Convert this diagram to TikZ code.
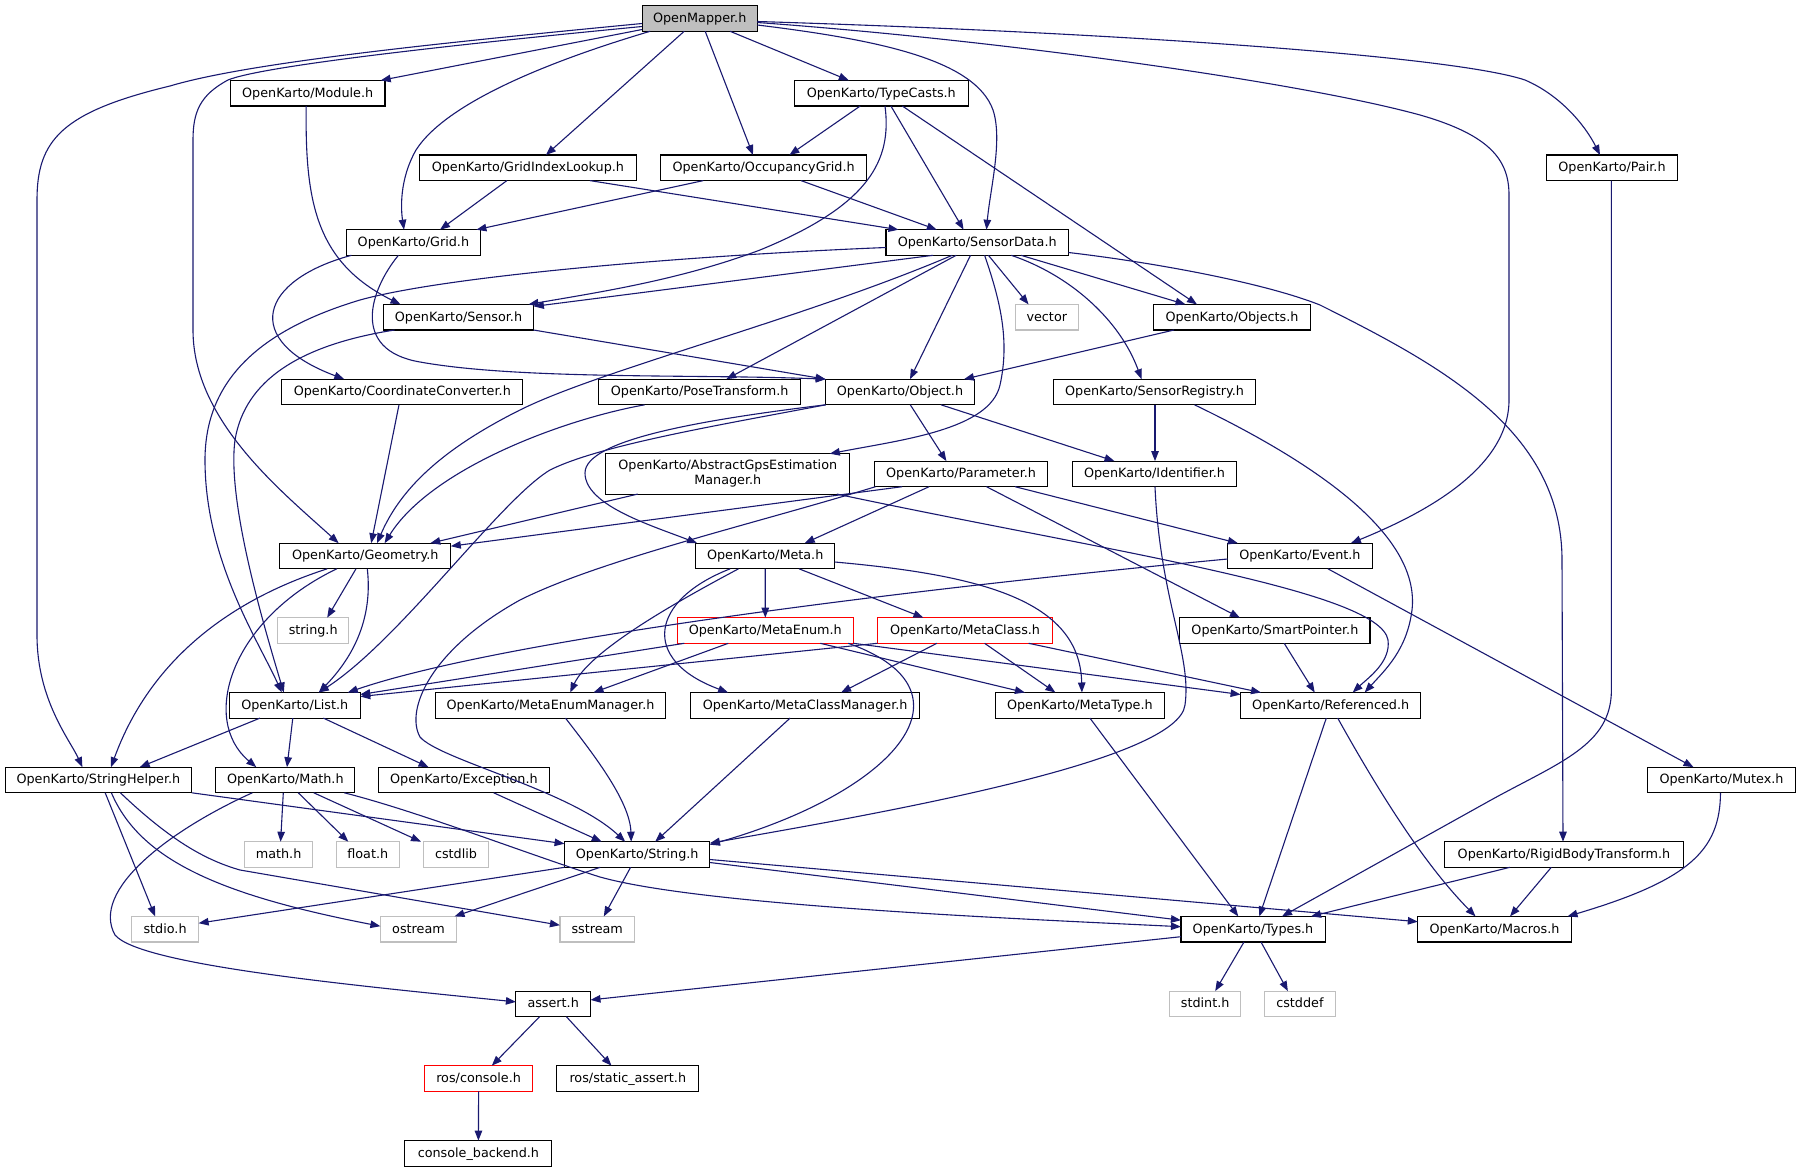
\documentclass[tikz,border=0pt]{standalone}
\usepackage{fontspec}
\setmainfont{DejaVu Sans}
\usetikzlibrary{arrows.meta}
\definecolor{edgeblue}{RGB}{25,25,112}
\definecolor{sysgray}{RGB}{191,191,191}
\newcommand\dxfont{\fontsize{12.77}{15}\selectfont}
\tikzset{
  box/.style={draw=black, fill=white, line width=1.1pt, minimum height=25.6, inner sep=0, outer sep=0, text height=10.2pt, text depth=2.3pt, font=\dxfont},
  sysbox/.style={box, draw=sysgray},
  redbox/.style={box, draw=red},
  e/.style={draw=edgeblue, line width=1.1pt, -{Triangle[length=10pt,width=7.5pt]}},
}
\begin{document}
\begin{tikzpicture}[x=1pt,y=-1pt]
\fill[white] (0,0) rectangle (1800,1172);
\useasboundingbox (0,0) rectangle (1800,1172);
% nodes
\node[box, fill=sysgray, minimum width=115.2] (om) at (699.7,18.5) {OpenMapper.h};
\node[box, minimum width=154.6] (mod) at (307.7,93.2) {OpenKarto/Module.h};
\node[box, minimum width=173.8] (tc) at (881.3,93.2) {OpenKarto/TypeCasts.h};
\node[box, minimum width=217] (gil) at (527.9,167.8) {OpenKarto/GridIndexLookup.h};
\node[box, minimum width=206.2] (og) at (763.6,167.8) {OpenKarto/OccupancyGrid.h};
\node[box, minimum width=131.3] (pair) at (1612,167.8) {OpenKarto/Pair.h};
\node[box, minimum width=134.7] (grid) at (413.4,242.5) {OpenKarto/Grid.h};
\node[box, minimum width=182.5] (sd) at (977.2,242.5) {OpenKarto/SensorData.h};
\node[box, minimum width=150.8] (sensor) at (458.5,317.2) {OpenKarto/Sensor.h};
\node[sysbox, minimum width=63.2] (vec) at (1046.8,317.2) {vector};
\node[box, minimum width=156.4] (objs) at (1232,317.2) {OpenKarto/Objects.h};
\node[box, minimum width=241.1] (cc) at (402.3,392) {OpenKarto/CoordinateConverter.h};
\node[box, minimum width=202.4] (pt) at (699.7,392) {OpenKarto/PoseTransform.h};
\node[box, minimum width=148.6] (obj) at (900,392) {OpenKarto/Object.h};
\node[box, minimum width=202.8] (sr) at (1154.5,392) {OpenKarto/SensorRegistry.h};
\node[box, minimum width=244.2, minimum height=40.3, text height=, text depth=, align=center] (agps) at (727.8,473.9) {OpenKarto/AbstractGpsEstimation\\Manager.h};
\node[box, minimum width=173.4] (param) at (961.1,473.9) {OpenKarto/Parameter.h};
\node[box, minimum width=163.8] (ident) at (1154.5,473.9) {OpenKarto/Identifier.h};
\node[box, minimum width=171] (geom) at (365.3,556) {OpenKarto/Geometry.h};
\node[box, minimum width=138.9] (meta) at (765.2,556) {OpenKarto/Meta.h};
\node[box, minimum width=144.6] (event) at (1299.9,556) {OpenKarto/Event.h};
\node[sysbox, minimum width=70.8] (strh) at (313.2,630.5) {string.h};
\node[redbox, minimum width=176] (menum) at (765.3,630.5) {OpenKarto/MetaEnum.h};
\node[redbox, minimum width=175.2] (mclass) at (965.1,630.5) {OpenKarto/MetaClass.h};
\node[box, minimum width=190.1] (sp) at (1274.9,630.5) {OpenKarto/SmartPointer.h};
\node[box, minimum width=131] (list) at (294.8,705.3) {OpenKarto/List.h};
\node[box, minimum width=230.7] (mem) at (550.5,705.3) {OpenKarto/MetaEnumManager.h};
\node[box, minimum width=229.6] (mcm) at (805.1,705.3) {OpenKarto/MetaClassManager.h};
\node[box, minimum width=169.2] (mtype) at (1079.9,705.3) {OpenKarto/MetaType.h};
\node[box, minimum width=180.2] (ref) at (1330.7,705.3) {OpenKarto/Referenced.h};
\node[box, minimum width=186.7] (sh) at (98.4,780) {OpenKarto/StringHelper.h};
\node[box, minimum width=139] (math) at (285.3,780) {OpenKarto/Math.h};
\node[box, minimum width=170.7] (exc) at (463.9,780) {OpenKarto/Exception.h};
\node[box, minimum width=147.3] (mutex) at (1721.5,780) {OpenKarto/Mutex.h};
\node[sysbox, minimum width=68.2] (mathh) at (278.6,854.5) {math.h};
\node[sysbox, minimum width=62.8] (floath) at (367.8,854.5) {float.h};
\node[sysbox, minimum width=65.4] (cstdlib) at (456,854.5) {cstdlib};
\node[box, minimum width=145.3] (string) at (637.2,854.5) {OpenKarto/String.h};
\node[box, minimum width=238.9] (rbt) at (1564,854.5) {OpenKarto/RigidBodyTransform.h};
\node[sysbox, minimum width=67] (stdio) at (165.1,929.2) {stdio.h};
\node[sysbox, minimum width=76.2] (ostream) at (418.5,929.2) {ostream};
\node[sysbox, minimum width=74.5] (sstream) at (597.2,929.2) {sstream};
\node[box, minimum width=144.1] (types) at (1253,929.2) {OpenKarto/Types.h};
\node[box, minimum width=153.4] (macros) at (1494.5,929.2) {OpenKarto/Macros.h};
\node[box, minimum width=74.6] (assert) at (553.2,1003.9) {assert.h};
\node[sysbox, minimum width=70.8] (stdint) at (1205.2,1003.9) {stdint.h};
\node[sysbox, minimum width=71.2] (cstddef) at (1299.9,1003.9) {cstddef};
\node[redbox, minimum width=108.3] (rosc) at (478.6,1078.5) {ros/console.h};
\node[box, minimum width=141.9] (rossa) at (627.8,1078.5) {ros/static\_assert.h};
\node[box, minimum width=147] (cb) at (478.4,1153.4) {console\_backend.h};
% OpenMapper
\draw[e] ([yshift=-5]om.west) .. controls (450,42) and (250,62) .. (170,86) .. controls (62,112) and (37,140) .. (37,200) -- (37,635) .. controls (37,700) and (70,740) .. ([xshift=-16]sh.north);
\draw[e] ([yshift=-8]om.west) .. controls (450,45) and (262,66) .. (228,80) .. controls (200,95) and (193,112) .. (193,140) -- (193,330) .. controls (193,420) and (280,490) .. ([xshift=-26.6]geom.north);
\draw[e] ([yshift=-11]om.west) -- ([xshift=73]mod.north);
\draw[e] ([xshift=8]om.south west) .. controls (560,58) and (448,100) .. (416,150) .. controls (399,180) and (401,210) .. ([xshift=-9.4]grid.north);
\draw[e] ([xshift=-15.5]om.south) -- ([xshift=18]gil.north);
\draw[e] ([xshift=5.5]om.south) -- ([xshift=-10.6]og.north);
\draw[e] ([xshift=30.4]om.south) -- ([xshift=-32.5]tc.north);
\draw[e] ([yshift=-6.5]om.east) .. controls (880,40) and (975,60) .. (993,110) .. controls (1003,140) and (990,190) .. ([xshift=9.3]sd.north);
\draw[e] ([yshift=-4]om.east) .. controls (1000,40) and (1300,82) .. (1420,115) .. controls (1490,135) and (1509,160) .. (1509,195) -- (1509,400) .. controls (1509,470) and (1420,515) .. ([xshift=51]event.north);
\draw[e] ([yshift=-3]om.east) .. controls (1100,32) and (1450,55) .. (1525,80) .. controls (1560,95) and (1585,125) .. ([xshift=-12]pair.north);
% Module
\draw[e] ([xshift=-1.5]mod.south) .. controls (305,200) and (315,262) .. ([xshift=-58]sensor.north);
% TypeCasts
\draw[e] ([xshift=-21.1]tc.south) -- ([xshift=25.8]og.north);
\draw[e] ([xshift=3.7]tc.south) .. controls (892,160) and (870,205) .. (760,250) .. controls (680,280) and (600,292) .. ([xshift=70]sensor.north);
\draw[e] ([xshift=9.6]tc.south) -- ([xshift=-13.6]sd.north);
\draw[e] ([xshift=21]tc.south) -- ([xshift=-35]objs.north);
% GridIndexLookup, OccupancyGrid
\draw[e] ([xshift=-21]gil.south) -- ([xshift=26.6]grid.north);
\draw[e] ([xshift=62]gil.south) -- ([xshift=-78.7]sd.north);
\draw[e] ([xshift=-60.3]og.south) -- ([xshift=63]grid.north);
\draw[e] ([xshift=37.4]og.south) -- ([xshift=-40.4]sd.north);
% Pair
\draw[e] ([xshift=-0.6]pair.south) -- (1611.4,690) .. controls (1611.4,745) and (1560,762) .. (1491,800) -- ([xshift=29]types.north);
% Grid
\draw[e] ([xshift=-62]grid.south) .. controls (260,280) and (240,340) .. ([xshift=-58]cc.north);
\draw[e] ([xshift=-15]grid.south) .. controls (370,290) and (350,350) .. (420,362) .. controls (520,380) and (700,374) .. (obj.north west);
% SensorData
\draw[e] ([yshift=-5]sd.west) .. controls (700,255) and (450,275) .. (360,300) .. controls (260,330) and (205,380) .. (205,460) .. controls (205,560) and (258,640) .. ([xshift=-13]list.north);
\draw[e] ([xshift=-44]sd.south) -- ([yshift=-2]sensor.north east);
\draw[e] ([xshift=-25]sd.south) .. controls (800,320) and (600,370) .. (520,410) .. controls (440,450) and (400,490) .. ([xshift=11.7]geom.north);
\draw[e] ([xshift=-21]sd.south) -- ([xshift=26.6]pt.north);
\draw[e] ([xshift=-6.7]sd.south) -- ([xshift=10]obj.north);
\draw[e] ([xshift=7.4]sd.south) .. controls (1000,300) and (1010,340) .. (1000,385) .. controls (990,430) and (900,440) .. ([xshift=102]agps.north);
\draw[e] ([xshift=11.2]sd.south) -- ([xshift=-18.2]vec.north);
\draw[e] ([xshift=34]sd.south) .. controls (1070,275) and (1120,320) .. ([xshift=-13]sr.north);
\draw[e] ([xshift=43.8]sd.south) -- ([xshift=-46.5]objs.north);
\draw[e] ([yshift=-10]sd.east) .. controls (1150,262) and (1262,282) .. (1320,305) .. controls (1440,365) and (1562,430) .. (1562,560) -- ([xshift=-1]rbt.north);
% Sensor
\draw[e] ([xshift=-64]sensor.south) .. controls (300,345) and (245,380) .. (235,440) .. controls (227,500) and (262,620) .. ([xshift=-11]list.north);
\draw[e] ([xshift=75]sensor.south) -- (obj.north west);
% Objects
\draw[e] ([xshift=-58]objs.south) -- ([xshift=64]obj.north);
% CoordinateConverter, PoseTransform
\draw[e] ([xshift=-3.3]cc.south) -- ([xshift=5.9]geom.north);
\draw[e] ([xshift=-55]pt.south) .. controls (560,420) and (430,470) .. ([xshift=19.3]geom.north);
% Object
\draw[e] (obj.south west) .. controls (720,425) and (600,445) .. (550,470) .. controls (500,500) and (400,640) .. ([xshift=24]list.north);
\draw[e] (obj.south west) .. controls (700,420) and (585,440) .. (585,473) .. controls (585,505) and (650,525) .. ([xshift=-68]meta.north);
\draw[e] ([xshift=10.3]obj.south) -- ([xshift=-14.7]param.north);
\draw[e] ([xshift=41]obj.south) -- ([xshift=-40]ident.north);
% SensorRegistry
\draw[e] ([xshift=0.5]sr.south) -- ([xshift=0.5]ident.north);
\draw[e] ([xshift=40]sr.south) .. controls (1330,470) and (1420,540) .. (1412,610) .. controls (1407,650) and (1385,670) .. ([xshift=34]ref.north);
% AbstractGps
\draw[e] ([xshift=-90]agps.south) -- ([xshift=65]geom.north);
\draw[e] ([xshift=109]agps.south) .. controls (1100,550) and (1380,590) .. (1388,640) .. controls (1391,662) and (1368,678) .. ([xshift=22]ref.north);
% Parameter
\draw[e] ([xshift=-59]param.south) -- ([yshift=-3]geom.north east);
\draw[e] ([xshift=-85.6]param.south) .. controls (750,525) and (600,560) .. (520,600) .. controls (430,650) and (405,710) .. (420,737) .. controls (440,760) and (570,790) .. ([xshift=-12]string.north);
\draw[e] ([xshift=-32]param.south) -- ([xshift=39.5]meta.north);
\draw[e] ([xshift=54]param.south) -- ([xshift=-62]event.north);
\draw[e] ([xshift=25.4]param.south) -- ([xshift=-35]sp.north);
% Identifier
\draw[e] ([xshift=0.5]ident.south) .. controls (1160,600) and (1192,655) .. (1185,705) .. controls (1178,760) and (900,810) .. ([yshift=-1.5]string.north east);
% Geometry
\draw[e] ([xshift=-38]geom.south) .. controls (230,600) and (150,660) .. ([xshift=12.6]sh.north);
\draw[e] ([xshift=-28.5]geom.south) .. controls (230,620) and (200,720) .. ([xshift=-29]math.north);
\draw[e] ([xshift=-9.3]geom.south) -- ([xshift=14]strh.north);
\draw[e] ([xshift=2]geom.south) .. controls (372,610) and (360,650) .. ([xshift=24]list.north);
% Meta
\draw[e] (meta.south) -- (menum.north);
\draw[e] ([xshift=33.8]meta.south) -- ([xshift=-41.7]mclass.north);
\draw[e] ([yshift=-6]meta.east) .. controls (980,575) and (1080,600) .. ([xshift=2]mtype.north);
\draw[e] ([xshift=-26.7]meta.south) .. controls (680,600) and (590,650) .. ([xshift=19.7]mem.north);
\draw[e] ([xshift=-35]meta.south) .. controls (650,600) and (640,660) .. ([xshift=-77]mcm.north);
% Event
\draw[e] ([yshift=-3]event.west) .. controls (900,590) and (500,640) .. ([xshift=53]list.north);
\draw[e] ([xshift=28]event.south) -- ([xshift=-28]mutex.north);
% MetaEnum
\draw[e] ([xshift=-81]menum.south) -- ([yshift=-2]list.north east);
\draw[e] ([xshift=-37]menum.south) -- ([xshift=43]mem.north);
\draw[e] ([xshift=55]menum.south) -- ([xshift=-55]mtype.north);
\draw[e] ([xshift=83]menum.south) .. controls (980,690) and (900,790) .. ([yshift=-3]string.north east);
\draw[e] (menum.south east) -- ([yshift=-2]ref.north west);
% MetaClass
\draw[e] (mclass.south west) -- ([yshift=-4]list.north east);
\draw[e] ([xshift=-28.3]mclass.south) -- ([xshift=36]mcm.north);
\draw[e] ([xshift=19.5]mclass.south) -- ([xshift=-24.5]mtype.north);
\draw[e] ([xshift=63.5]mclass.south) -- ([xshift=-69.7]ref.north);
% SmartPointer
\draw[e] ([xshift=9.3]sp.south) -- ([xshift=-16]ref.north);
% List
\draw[e] ([xshift=-34.8]list.south) -- ([xshift=41.3]sh.north);
\draw[e] ([xshift=-2]list.south) -- ([xshift=1.7]math.north);
\draw[e] ([xshift=28.6]list.south) -- ([xshift=-35.3]exc.north);
% MetaEnumManager, MetaClassManager
\draw[e] ([xshift=15]mem.south) .. controls (590,750) and (630,800) .. ([xshift=-6]string.north);
\draw[e] ([xshift=-15]mcm.south) -- ([xshift=18]string.north);
% MetaType, Referenced, Mutex
\draw[e] ([xshift=10]mtype.south) -- ([xshift=-14.7]types.north);
\draw[e] ([xshift=-4.4]ref.south) -- ([xshift=6.3]types.north);
\draw[e] ([xshift=7]ref.south) .. controls (1400,830) and (1440,880) .. ([xshift=-19]macros.north);
\draw[e] ([xshift=-1]mutex.south) .. controls (1720,850) and (1690,880) .. ([xshift=73]macros.north);
% StringHelper
\draw[e] (sh.south east) -- ([yshift=-2]string.north west);
\draw[e] ([xshift=6.8]sh.south) -- ([xshift=-10]stdio.north);
\draw[e] ([xshift=13]sh.south) .. controls (140,860) and (220,895) .. ([yshift=3]ostream.west);
\draw[e] ([xshift=22]sh.south) .. controls (170,840) and (205,860) .. (240,870) -- ([yshift=4]sstream.west);
% Math
\draw[e] ([xshift=-2]math.south) -- ([xshift=2]mathh.north);
\draw[e] ([xshift=13]math.south) -- ([xshift=-19.5]floath.north);
\draw[e] ([xshift=28.5]math.south) -- ([xshift=-35]cstdlib.north);
\draw[e] ([xshift=-33]math.south) .. controls (170,830) and (90,890) .. (115,935) .. controls (140,965) and (350,985) .. ([yshift=2]assert.west);
\draw[e] ([xshift=59]math.south) .. controls (420,812) and (530,855) .. (600,877) .. controls (700,905) and (1000,918) .. ([yshift=2.5]types.west);
% Exception
\draw[e] ([xshift=29.8]exc.south) -- ([xshift=-35.5]string.north);
% String
\draw[e] (string.south west) -- ([yshift=6]stdio.east);
\draw[e] ([xshift=-37]string.south) -- ([xshift=36]ostream.north);
\draw[e] ([xshift=-6.6]string.south) -- ([xshift=6.6]sstream.north);
\draw[e] ([yshift=-8]string.east) -- ([yshift=9]types.west);
\draw[e] ([yshift=-5]string.east) -- ([yshift=7.5]macros.west);
% Types
\draw[e] ([yshift=-7.5]types.west) -- ([yshift=4]assert.east);
\draw[e] ([xshift=-9]types.south) -- ([xshift=10]stdint.north);
\draw[e] ([xshift=8]types.south) -- ([xshift=-12]cstddef.north);
% RigidBodyTransform
\draw[e] ([xshift=-54]rbt.south) -- ([xshift=58]types.north);
\draw[e] ([xshift=-12.7]rbt.south) -- ([xshift=15.5]macros.north);
% assert, console
\draw[e] ([xshift=-13.6]assert.south) -- ([xshift=13.2]rosc.north);
\draw[e] ([xshift=13.2]assert.south) -- ([xshift=-16.3]rossa.north);
\draw[e] (rosc.south) -- (cb.north);
\end{tikzpicture}
\end{document}
